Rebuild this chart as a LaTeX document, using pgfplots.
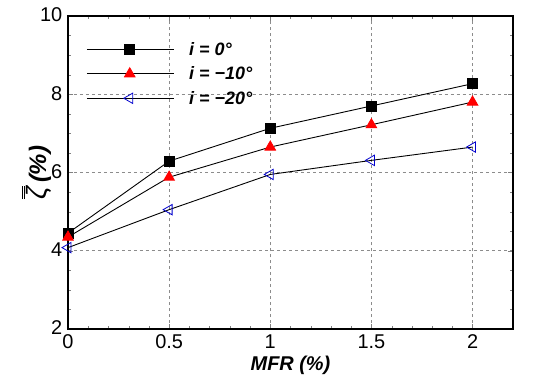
\documentclass[border=0pt]{standalone}
\usepackage{pgfplots}
\pgfplotsset{compat=1.18}
\usepackage{fontspec}
\setmainfont{Liberation Sans}
\begin{document}
\begin{tikzpicture}
\useasboundingbox (-68bp,-58bp) rectangle (482bp,329bp);
\begin{axis}[
  scale only axis, width=445bp, height=313bp,
  at={(0,0)}, anchor=south west,
  xmin=0, xmax=2.2, ymin=2, ymax=10,
  xtick={0,0.5,1,1.5,2}, ytick={2,4,6,8,10},
  minor x tick num=4, minor y tick num=3,
  tick align=inside, major tick length=5bp, minor tick length=3bp,
  grid=major, grid style={dashed, gray!90, line width=0.6pt},
  axis line style={line width=1.2pt},
  ticklabel style={font=\fontsize{20}{22}\selectfont, inner sep=0.5bp},
  /pgf/number format/assume math mode=true,
  xticklabel style={yshift=-5bp},
  yticklabel style={xshift=-5bp, yshift=1bp},
  xlabel={\bfseries\itshape MFR (\%)},
  ylabel={$\overline{\overline{\mbox{\fontsize{28}{30}\selectfont\itshape ζ}}}$\,{\fontsize{24}{26}\selectfont\bfseries\itshape (\%)}},
  label style={font=\fontsize{20}{22}\selectfont},
  xlabel style={yshift=-3bp},
  ylabel style={yshift=-15bp},
  legend style={draw=none, fill=none, at={(0.034,0.93)}, anchor=north west,
    font=\fontsize{18}{20}\selectfont\bfseries\itshape, row sep=6bp},
  legend cell align=left,
  legend image code/.code={
    \draw[mark repeat=2,mark phase=2,#1] plot coordinates {(0bp,0bp) (43bp,0bp) (87bp,0bp)};
    \path (100bp,0bp);},
]
\addplot[black, line width=0.9pt, mark=square*, mark size=5bp, mark options={solid}]
  coordinates {(0,4.45) (0.5,6.29) (1,7.13) (1.5,7.70) (2,8.27)};
\addlegendentry{i = 0°}
\addplot[black, line width=0.9pt, mark=triangle*, mark size=6bp, mark options={fill=red, draw=red}]
  coordinates {(0,4.35) (0.5,5.88) (1,6.65) (1.5,7.22) (2,7.80)};
\addlegendentry{i = −10°}
\addplot[black, line width=0.9pt, mark=triangle, mark size=6bp, mark options={draw=blue!80!black, rotate=90, line width=0.8pt}]
  coordinates {(0,4.08) (0.5,5.05) (1,5.95) (1.5,6.31) (2,6.65)};
\addlegendentry{i = −20°}
\end{axis}
\end{tikzpicture}
\end{document}
